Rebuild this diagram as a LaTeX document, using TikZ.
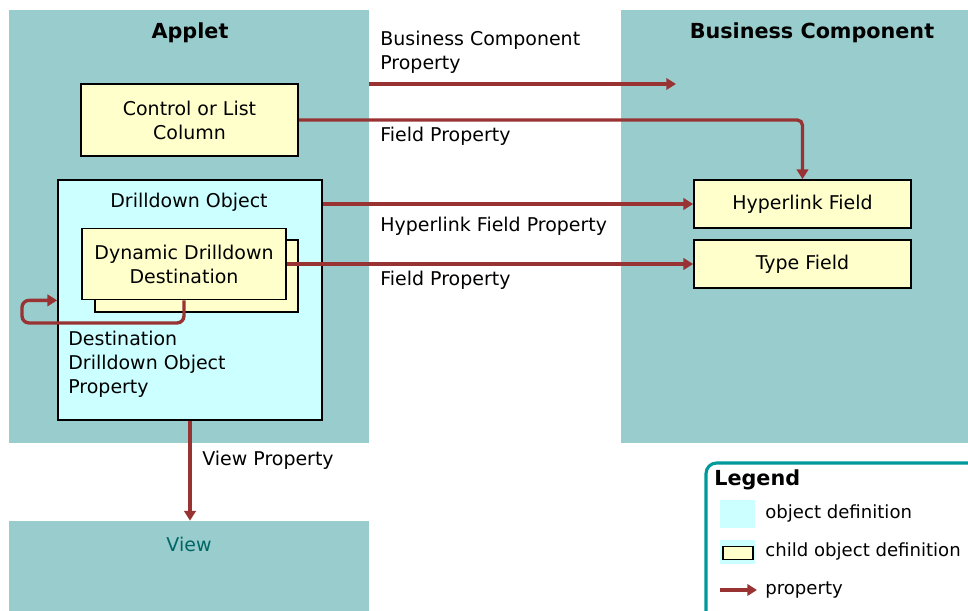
\documentclass[tikz,border=0pt]{standalone}
\usepackage{fontspec}
\setmainfont{DejaVu Sans}
\usetikzlibrary{positioning,arrows.meta}
\definecolor{panelteal}{HTML}{99CCCC}
\definecolor{objcyan}{HTML}{CCFFFF}
\definecolor{childyellow}{HTML}{FFFFCC}
\definecolor{propred}{HTML}{993333}
\definecolor{legendteal}{HTML}{009999}
\definecolor{viewtext}{HTML}{006666}

\begin{document}
\begin{tikzpicture}[x=0.02cm,y=-0.02cm,font=\fontsize{10.8}{13.6}\selectfont,
    prop/.style={draw=propred,line width=1.9pt,-{Triangle[length=5.5pt,width=6.5pt]}},
    childbox/.style={draw,line width=1pt,fill=childyellow,align=center,inner sep=0pt},
    proplabel/.style={anchor=west,inner sep=0pt,align=left},
    titlefont/.style={font=\fontsize{11.8}{13.6}\selectfont\bfseries}]
    \useasboundingbox (0,0) rectangle (968,611);
    \clip (0,0) rectangle (968,611);
    %%%%% THE PANELS
    \begin{scope}[every node/.style={fill=panelteal,inner sep=0pt}]
      \node[minimum width=7.2cm,minimum height=8.66cm] (APPLET) at (189,226.5) {};
      \node[minimum width=7.2cm,minimum height=2cm] (VIEW) at (189,571) {};
      \node[minimum width=7.08cm,minimum height=8.66cm] (BC) at (798,226.5) {};
    \end{scope}
    \node[titlefont] (APPLETTITLE) at (190,33) {Applet};
    \node[titlefont] (BCTITLE) at (812,33) {Business Component};
    \node[text=viewtext] (VIEWTITLE) at (189,544) {View};
    %%%%% THE OBJECTS
    \node[childbox,minimum width=4.34cm,minimum height=1.44cm] (CTRL) at (189.5,120) {Control or List\\Column};
    \node[draw,line width=1pt,fill=objcyan,minimum width=5.28cm,minimum height=4.8cm] (DDO) at (190,300) {};
    \node (DDOTITLE) at (189,202) {Drilldown Object};
    \node[childbox,minimum width=4.06cm,minimum height=1.44cm] (DYNB) at (196.5,276) {};
    \node[childbox,minimum width=4.08cm,minimum height=1.42cm] (DYN) at (184,264) {Dynamic Drilldown\\Destination};
    \node[childbox,minimum width=4.34cm,minimum height=0.96cm] (HYP) at (802.5,204) {Hyperlink Field};
    \node[childbox,minimum width=4.34cm,minimum height=0.96cm] (TYPE) at (802.5,264) {Type Field};
    %%%%% THE PROPERTIES
    \coordinate (BCEND) at (676,84);
    \coordinate (LOOP) at (22,323);
    \draw[prop] (APPLET.east |- BCEND) -- (BCEND);
    \draw[prop,rounded corners=3pt] (CTRL.east) -| (HYP.north);
    \draw[prop] (DDO.east |- HYP.west) -- (HYP.west);
    \draw[prop] (DYN.east) -- (TYPE.west);
    \draw[prop,rounded corners=4pt] (DYN.south) |- (LOOP) |- (DDO.west |- DYN.south);
    \draw[prop] (DDO.south) -- (DDO.south |- VIEW.north);
    \node[proplabel] (BCPROP) at (380,52) {Business Component\\Property};
    \node[proplabel] (FP1) at (380,136) {Field Property};
    \node[proplabel] (HFP) at (380,226) {Hyperlink Field Property};
    \node[proplabel] (FP2) at (380,280) {Field Property};
    \node[proplabel] (VP) at (202,460) {View Property};
    \node[proplabel] (DDOP) at (68,364) {Destination\\Drilldown Object\\Property};
    %%%%% THE LEGEND
    \node[draw=legendteal,line width=1.8pt,rounded corners=6pt,fill=white,
      minimum width=5.68cm,minimum height=3.24cm] (LEGEND) at (848,544) {};
    \node[proplabel,titlefont] (LEGTITLE) at (714,480) {Legend};
    \node[fill=objcyan,minimum width=0.7cm,minimum height=0.56cm,inner sep=0pt] (SW1) at (737.5,514) {};
    \node[fill=objcyan,minimum width=0.7cm,minimum height=0.5cm,inner sep=0pt] (SW2) at (737.5,552) {};
    \node[childbox,minimum width=0.6cm,minimum height=0.26cm] (SW2IN) at (738,553) {};
    \coordinate (SW3A) at (720,590);
    \coordinate (SW3B) at (757,590);
    \draw[prop] (SW3A) -- (SW3B);
    \begin{scope}[font=\fontsize{10.3}{13.6}\selectfont]
      \node[proplabel] (L1) at (765,514) {object definition};
      \node[proplabel] (L2) at (765,552) {child object definition};
      \node[proplabel] (L3) at (765,590) {property};
    \end{scope}
\end{tikzpicture}
\end{document}
